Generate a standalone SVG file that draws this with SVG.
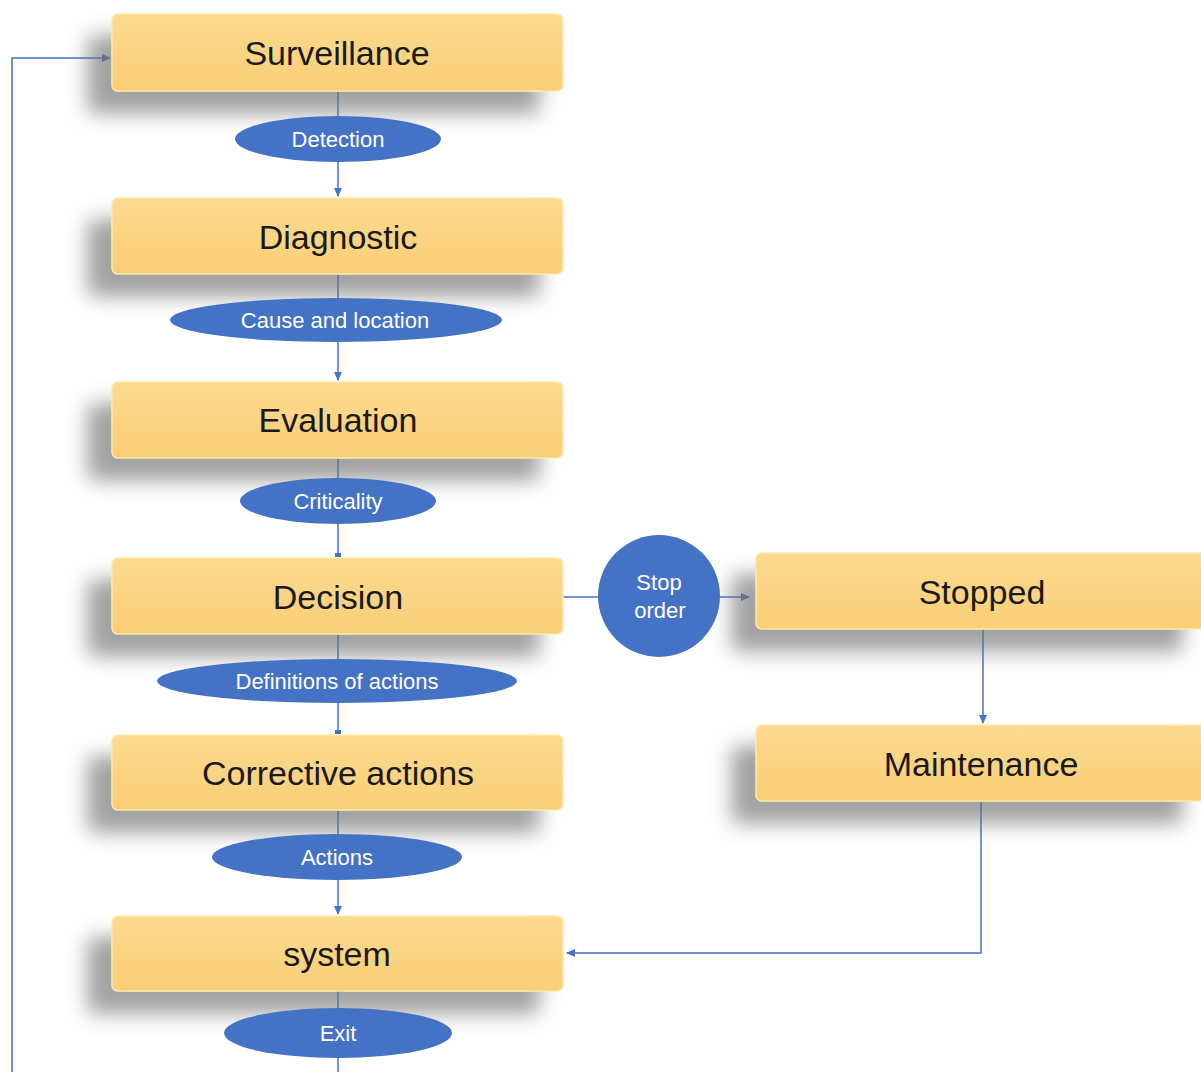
<svg xmlns="http://www.w3.org/2000/svg" width="1201" height="1072" viewBox="0 0 1201 1072">
<defs>
<linearGradient id="boxg" x1="0" y1="0" x2="0" y2="1">
<stop offset="0" stop-color="#FDDA90"/>
<stop offset="1" stop-color="#FACE76"/>
</linearGradient>
<filter id="sh" x="-20%" y="-40%" width="140%" height="200%">
<feDropShadow dx="-24" dy="22" stdDeviation="10" flood-color="#707070" flood-opacity="0.65"/>
</filter>
<marker id="ah" markerWidth="10" markerHeight="10" refX="8" refY="5" orient="auto" markerUnits="userSpaceOnUse">
<path d="M0,1 L9,5 L0,9 Z" fill="#4472C4"/>
</marker>
<marker id="tk" markerWidth="12" markerHeight="6" refX="3" refY="3" orient="auto" markerUnits="userSpaceOnUse">
<rect x="0" y="0" width="4" height="6" fill="#4472C4"/>
</marker>
</defs>
<style>
.box{fill:url(#boxg);stroke:#FCE9A8;stroke-width:1.5;filter:url(#sh)}
.bt{font-family:"Liberation Sans",Arial,sans-serif;font-size:34px;fill:#1a1a1a;text-anchor:middle;dominant-baseline:central}
.el{fill:#4472C4}
.et{font-family:"Liberation Sans",Arial,sans-serif;font-size:22px;fill:#ffffff;text-anchor:middle;dominant-baseline:central}
.cn{fill:none;stroke:#4472C4;stroke-width:1.5}
</style>
<rect width="1201" height="1072" fill="#ffffff"/>
<g id="connectors">
<path class="cn" d="M12,1072 V58 H110" marker-end="url(#ah)"/>
<path class="cn" d="M338,91 V196" marker-end="url(#ah)"/>
<path class="cn" d="M338,274 V380" marker-end="url(#ah)"/>
<path class="cn" d="M338,458 V556" marker-end="url(#tk)"/>
<path class="cn" d="M338,634 V733" marker-end="url(#tk)"/>
<path class="cn" d="M338,810 V914" marker-end="url(#ah)"/>
<path class="cn" d="M338,991 V1072"/>
<path class="cn" d="M563,597 H749" marker-end="url(#ah)"/>
<path class="cn" d="M983,629 V723" marker-end="url(#ah)"/>
<path class="cn" d="M981,801 V953 H567" marker-end="url(#ah)"/>
</g>
<g id="surveillance"><rect class="box" x="112" y="14" width="451" height="77" rx="6"/><text class="bt" x="337" y="53">Surveillance</text></g>
<g id="diagnostic"><rect class="box" x="112" y="198" width="451" height="76" rx="6"/><text class="bt" x="338" y="237">Diagnostic</text></g>
<g id="evaluation"><rect class="box" x="112" y="382" width="451" height="76" rx="6"/><text class="bt" x="338" y="420">Evaluation</text></g>
<g id="decision"><rect class="box" x="112" y="558" width="451" height="76" rx="6"/><text class="bt" x="338" y="597">Decision</text></g>
<g id="corrective-actions"><rect class="box" x="112" y="735" width="451" height="75" rx="6"/><text class="bt" x="338" y="773">Corrective actions</text></g>
<g id="system"><rect class="box" x="112" y="916" width="451" height="75" rx="6"/><text class="bt" x="337" y="954">system</text></g>
<g id="stopped"><rect class="box" x="756" y="553" width="450" height="76" rx="6"/><text class="bt" x="982" y="592">Stopped</text></g>
<g id="maintenance"><rect class="box" x="756" y="725" width="450" height="76" rx="6"/><text class="bt" x="981" y="764">Maintenance</text></g>
<g id="detection"><ellipse class="el" cx="338" cy="139" rx="103" ry="23"/><text class="et" x="338" y="139">Detection</text></g>
<g id="cause-and-location"><ellipse class="el" cx="336" cy="320" rx="166" ry="22"/><text class="et" x="335" y="320">Cause and location</text></g>
<g id="criticality"><ellipse class="el" cx="338" cy="501" rx="98" ry="23"/><text class="et" x="338" y="501">Criticality</text></g>
<g id="definitions-of-actions"><ellipse class="el" cx="337" cy="681" rx="180" ry="22"/><text class="et" x="337" y="681">Definitions of actions</text></g>
<g id="actions"><ellipse class="el" cx="337" cy="857" rx="125" ry="23"/><text class="et" x="337" y="857">Actions</text></g>
<g id="exit"><ellipse class="el" cx="338" cy="1033" rx="114" ry="25"/><text class="et" x="338" y="1033">Exit</text></g>
<g id="stop-order"><circle class="el" cx="659" cy="596" r="61"/><text class="et" x="659" y="582">Stop</text><text class="et" x="660" y="610">order</text></g>
</svg>
